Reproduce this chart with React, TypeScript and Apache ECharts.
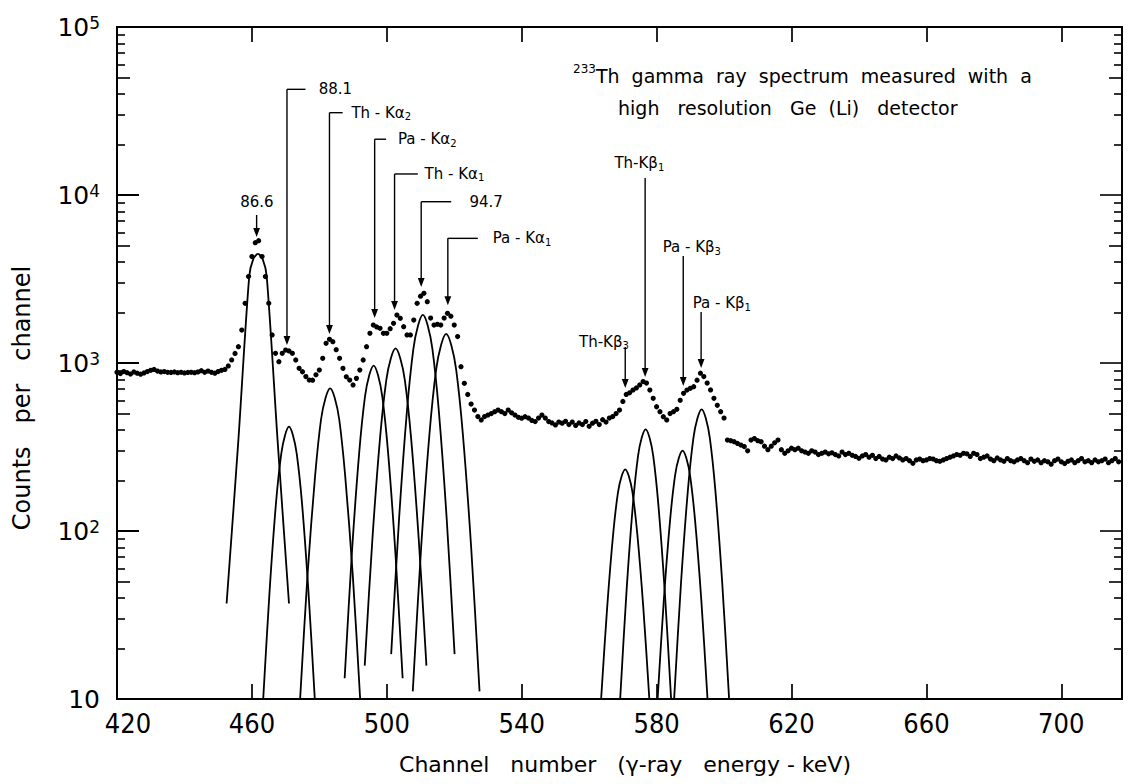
import React, { useEffect, useRef } from "react";
import * as echarts from "echarts";

// Measured spectrum: one count value per channel, starting at channel 420
const spectrumStartChannel = 420;
const spectrumCounts: number[] = [
  880, 865, 890, 875, 860, 885, 870, 858, 872, 890,
  905, 915, 895, 885, 890, 880, 878, 885, 875, 880,
  872, 878, 880, 875, 885, 900, 880, 895, 880, 870,
  890, 905, 915, 960, 1043, 1140, 1250, 1570, 2265, 3270,
  4300, 5200, 5350, 4300, 3270, 2265, 1470, 1142, 1018, 1142,
  1195, 1180, 1142, 1042, 929, 887, 830, 792, 790, 850,
  908, 1066, 1310, 1384, 1340, 1200, 1066, 929, 828, 792,
  740, 810, 908, 1042, 1250, 1503, 1682, 1640, 1609, 1503,
  1503, 1600, 1722, 1930, 1845, 1644, 1468, 1468, 1800, 2265,
  2500, 2600, 2317, 1850, 1682, 1700, 1682, 1850, 1977, 1900,
  1682, 1436, 950, 757, 650, 570, 525, 480, 458, 480,
  490, 500, 513, 525, 513, 500, 525, 505, 490, 475,
  469, 479, 470, 455, 448, 470, 490, 470, 448, 440,
  428, 445, 438, 450, 430, 445, 425, 440, 430, 448,
  420, 438, 450, 430, 460, 445, 470, 480, 500, 525,
  590, 650, 665, 690, 710, 740, 775, 760, 690, 616,
  549, 513, 479, 458, 500, 513, 530, 600, 660, 690,
  707, 723, 790, 869, 830, 760, 691, 616, 560, 513,
  470, 348, 345, 340, 332, 325, 318, 300, 348, 355,
  345, 340, 320, 305, 320, 335, 348, 305, 290, 300,
  311, 305, 311, 300, 295, 290, 300, 295, 285, 290,
  295, 288, 292, 285, 280, 295, 285, 290, 282, 278,
  271, 280, 285, 275, 282, 270, 278, 268, 265, 275,
  270, 280, 272, 265, 270, 262, 253, 265, 268, 262,
  265, 270, 268, 262, 260, 265, 270, 275, 280, 285,
  282, 290, 288, 278, 290, 285, 270, 275, 280, 268,
  262, 272, 265, 260, 270, 262, 258, 265, 270, 262,
  255, 268, 260, 265, 255, 262, 258, 250, 262, 268,
  258, 252, 260, 265, 255, 262, 270, 258, 262, 255,
  265, 258, 262, 268, 255, 262, 270, 258,
];

// Fitted peak components: [channel, counts]
const peak866: number[][] = [[452.5, 37], [456.0, 350], [459.2, 3270], [460.4, 4150], [461.8, 4460], [463.2, 4150], [464.4, 3270], [467.6, 350], [471.0, 37]];
const peak881: number[][] = [[463.35, 10], [465.25, 44], [467.15, 147], [468.7, 288], [469.85, 373], [471.0, 418], [472.15, 373], [473.3, 288], [474.85, 147], [476.75, 44], [478.65, 10]];
const peakThKa2: number[][] = [[474.3, 10], [476.5, 55], [478.75, 214], [480.5, 461], [481.85, 622], [483.2, 707], [484.55, 622], [485.9, 461], [487.65, 214], [489.9, 55], [492.1, 10]];
const peakPaKa2: number[][] = [[487.5, 13.3], [489.65, 74], [491.8, 290], [493.52, 628], [494.81, 847], [496.1, 964], [497.39, 847], [498.68, 628], [500.4, 290], [502.55, 74], [504.7, 13.3]];
const peakThKa1: number[][] = [[493.45, 15.8], [495.74, 90], [498.02, 362], [499.85, 791], [501.23, 1072], [502.6, 1222], [503.97, 1072], [505.35, 791], [507.18, 362], [509.46, 90], [511.75, 15.8]];
const peak947: number[][] = [[501.3, 18.5], [503.65, 119], [506.0, 526], [507.88, 1213], [509.29, 1679], [510.7, 1932], [512.11, 1679], [513.52, 1213], [515.4, 526], [517.75, 119], [520.1, 18.5]];
const peakPaKa1: number[][] = [[507.7, 11.1], [510.17, 79], [512.65, 378], [514.63, 912], [516.11, 1285], [517.6, 1490], [519.09, 1285], [520.57, 912], [522.55, 378], [525.03, 79], [527.5, 11.1]];
const peakThKb3: number[][] = [[563.55, 10], [565.34, 35], [567.12, 96], [568.55, 170], [569.63, 212], [570.7, 233], [571.77, 212], [572.85, 170], [574.28, 96], [576.06, 35], [577.85, 10]];
const peakThKb1: number[][] = [[569.2, 10], [571.09, 44], [572.97, 143], [574.48, 278], [575.62, 361], [576.75, 403], [577.88, 361], [579.02, 278], [580.53, 143], [582.41, 44], [584.3, 10]];
const peakPaKb3: number[][] = [[580.3, 10], [582.15, 39], [584.0, 116], [585.48, 214], [586.59, 272], [587.7, 301], [588.81, 272], [589.92, 214], [591.4, 116], [593.25, 39], [595.1, 10]];
const peakPaKb1: number[][] = [[585.2, 10], [587.24, 49], [589.27, 174], [590.9, 356], [592.13, 470], [593.35, 530], [594.57, 470], [595.8, 356], [597.43, 174], [599.46, 49], [601.5, 10]];

const components = [peak866, peak881, peakThKa2, peakPaKa2, peakThKa1, peak947, peakPaKa1, peakThKb3, peakThKb1, peakPaKb3, peakPaKb1];

// Axis ticks and labels
const xTickLabels = [420, 460, 500, 540, 580, 620, 660, 700];
const xTickMarks = [460, 500, 540, 580, 620, 660, 700];
const decadeExponents = [1, 2, 3, 4, 5];
const decadeBases = [10, 100, 1000, 10000];
const minorMultipliers = [2, 3, 4, 6, 7, 8, 9];
const midMultipliers = [5];

// Peak identification labels (rich text, subscripts in {s|..})
const annotationLabels = [
  "{t|86.6}", "{t|88.1}", "{t|Th - Kα}{s|2}", "{t|Pa - Kα}{s|2}", "{t|Th - Kα}{s|1}", "{t|94.7}",
  "{t|Pa - Kα}{s|1}", "{t|Th-Kβ}{s|3}", "{t|Th-Kβ}{s|1}", "{t|Pa - Kβ}{s|3}", "{t|Pa - Kβ}{s|1}",
];
const annotationLineChannel = [461.4, 470.4, 483.0, 496.4, 502.3, 510.2, 518.1, 570.7, 576.6, 587.9, 593.2];
const annotationTipCounts = [5620, 1280, 1490, 1850, 2070, 2830, 2210, 710, 826, 730, 933];
const annotationTopCounts = [7600, 42560, 30900, 21480, 13340, 9120, 5520, 1245, 12620, 4335, 2012];
const annotationBracketEnd = [461.4, 475.9, 486.9, 499.8, 509.2, 519.1, 527.0, 570.7, 576.6, 587.9, 593.2];
const annotationTextChannel = [461.5, 479.8, 489.5, 503.3, 511.2, 524.5, 531.4, 557.0, 567.5, 581.8, 590.7];
const annotationTextCounts = [9120, 42560, 30900, 21480, 13340, 9120, 5520, 1334, 15490, 4900, 2275];
const annotationTextAlign = ["center", "left", "left", "left", "left", "left", "left", "left", "left", "left", "left"];

const FONT = "'DejaVu Sans', 'Liberation Sans', Arial, sans-serif";
const TICK_FONT = "'Liberation Sans Narrow', 'DejaVu Sans Condensed', 'DejaVu Sans', sans-serif";
const INK = "#000";

export default function App() {
  const ref = useRef<HTMLDivElement>(null);

  useEffect(() => {
    if (!ref.current) return;
    const chart = echarts.init(ref.current, undefined, { renderer: "svg" });

    const minorLogs = decadeBases.flatMap((b) => minorMultipliers.map((m) => Math.log10(b * m)));
    const midLogs = decadeBases.flatMap((b) => midMultipliers.map((m) => Math.log10(b * m)));

    const spectrumData = spectrumCounts.map((v, i) => [spectrumStartChannel + i, v]);

    const tickAxis = (position: string, values: number[], length: number) => ({
      type: "value",
      min: 1,
      max: 5,
      position,
      axisLine: { show: false },
      splitLine: { show: false },
      axisLabel: { show: false },
      axisTick: { inside: true, length, customValues: values, lineStyle: { color: INK, width: 1.6 } },
    });

    const annotationRich = {
      t: { fontSize: 15, fontFamily: FONT, fill: INK, lineHeight: 18, verticalAlign: "middle" },
      s: { fontSize: 10, fontFamily: FONT, fill: INK, lineHeight: 10, padding: [10, 0, 0, 0], verticalAlign: "bottom" },
    };

    const option: any = {
      animation: false,
      backgroundColor: "#fff",
      grid: {
        left: 117,
        right: 10,
        top: 27,
        bottom: 85,
        show: true,
        borderColor: INK,
        borderWidth: 2,
        backgroundColor: "transparent",
      },
      xAxis: [
        {
          type: "value",
          min: 420,
          max: 718,
          position: "bottom",
          axisLine: { show: false },
          splitLine: { show: false },
          axisTick: { inside: true, length: 15, customValues: xTickMarks, lineStyle: { color: INK, width: 1.7 } },
          axisLabel: {
            customValues: xTickLabels,
            margin: 11,
            formatter: (v: number) => (v === xTickLabels[0] ? `{first|${v}}` : `{n|${v}}`),
            rich: {
              first: { fontSize: 27, fontFamily: TICK_FONT, color: INK, padding: [0, 0, 0, 22] },
              n: { fontSize: 27, fontFamily: TICK_FONT, color: INK },
            },
          },
        },
        {
          type: "value",
          min: 420,
          max: 718,
          position: "top",
          axisLine: { show: false },
          splitLine: { show: false },
          axisLabel: { show: false },
          axisTick: { inside: true, length: 15, customValues: xTickMarks, lineStyle: { color: INK, width: 1.7 } },
        },
      ],
      yAxis: [
        {
          type: "log",
          logBase: 10,
          min: 10,
          max: 100000,
          position: "left",
          axisLine: { show: false },
          splitLine: { show: false },
          axisTick: { inside: true, length: 22, lineStyle: { color: INK, width: 2 } },
          axisLabel: {
            margin: 17,
            formatter: (v: number) => {
              const e = Math.round(Math.log10(v));
              return e === 1 ? "{b|10}" : `{b|10}{e|${e}}`;
            },
            rich: {
              b: { fontSize: 25, fontFamily: FONT, color: INK, lineHeight: 26, verticalAlign: "bottom" },
              e: { fontSize: 17, fontFamily: FONT, color: INK, lineHeight: 17, padding: [0, 0, 14, 0], verticalAlign: "top" },
            },
          },
        },
        tickAxis("left", minorLogs, 8),
        tickAxis("left", midLogs, 13),
        tickAxis("right", decadeExponents, 22),
        tickAxis("right", minorLogs, 8),
        tickAxis("right", midLogs, 13),
      ],
      series: [
        ...components.map((pts, k) => ({
          type: "line",
          name: `component-${k}`,
          xAxisIndex: 0,
          yAxisIndex: 0,
          data: pts,
          smooth: 0.3,
          symbol: "none",
          showSymbol: false,
          clip: true,
          lineStyle: { color: INK, width: 1.8 },
          z: 2,
        })),
        {
          type: "scatter",
          name: "spectrum",
          xAxisIndex: 0,
          yAxisIndex: 0,
          data: spectrumData,
          symbol: "circle",
          symbolSize: 5.2,
          itemStyle: { color: INK, opacity: 1 },
          z: 3,
        },
        {
          type: "custom",
          name: "peak labels",
          xAxisIndex: 0,
          yAxisIndex: 0,
          data: annotationLineChannel.map((c, i) => [c, annotationTipCounts[i]]),
          z: 4,
          renderItem: (params: any, api: any) => {
            const i = params.dataIndex;
            const tip = api.coord([annotationLineChannel[i], annotationTipCounts[i]]);
            const top = api.coord([annotationLineChannel[i], annotationTopCounts[i]]);
            const end = api.coord([annotationBracketEnd[i], annotationTopCounts[i]]);
            const txt = api.coord([annotationTextChannel[i], annotationTextCounts[i]]);
            const head = 9;
            const half = 3.4;
            const children: any[] = [
              {
                type: "line",
                shape: { x1: top[0], y1: top[1], x2: tip[0], y2: tip[1] - head + 1 },
                style: { stroke: INK, lineWidth: 1.4 },
              },
              {
                type: "polygon",
                shape: { points: [[tip[0], tip[1]], [tip[0] - half, tip[1] - head], [tip[0] + half, tip[1] - head]] },
                style: { fill: INK },
              },
              {
                type: "text",
                x: txt[0],
                y: txt[1],
                style: {
                  text: annotationLabels[i],
                  rich: annotationRich,
                  fontSize: 15,
                  fontFamily: FONT,
                  fill: INK,
                  align: annotationTextAlign[i],
                  verticalAlign: "middle",
                },
              },
            ];
            if (end[0] - top[0] > 1) {
              children.push({
                type: "line",
                shape: { x1: top[0], y1: top[1], x2: end[0], y2: end[1] },
                style: { stroke: INK, lineWidth: 1.4 },
              });
            }
            return { type: "group", children };
          },
        },
      ],
      graphic: [
        {
          type: "text",
          x: 573,
          y: 74,
          style: {
            text: "{sup|233}{m|Th  gamma  ray  spectrum  measured  with  a}",
            fontSize: 19,
            fontFamily: FONT,
            fill: INK,
            align: "left",
            verticalAlign: "middle",
            rich: {
              sup: { fontSize: 12, fontFamily: FONT, fill: INK, lineHeight: 12, padding: [0, 0, 16, 0], verticalAlign: "top" },
              m: { fontSize: 19, fontFamily: FONT, fill: INK, lineHeight: 22, verticalAlign: "bottom" },
            },
          },
        },
        {
          type: "text",
          x: 618,
          y: 108,
          style: {
            text: "high   resolution   Ge  (Li)   detector",
            fontSize: 19,
            fontFamily: FONT,
            fill: INK,
            align: "left",
            verticalAlign: "middle",
          },
        },
        {
          type: "text",
          x: 22,
          y: 398,
          rotation: Math.PI / 2,
          style: {
            text: "Counts   per   channel",
            fontSize: 24,
            fontFamily: FONT,
            fill: INK,
            align: "center",
            verticalAlign: "middle",
          },
        },
        {
          type: "text",
          x: 625,
          y: 764,
          style: {
            text: "Channel   number   (γ-ray   energy - keV)",
            fontSize: 22,
            fontFamily: FONT,
            fill: INK,
            align: "center",
            verticalAlign: "middle",
          },
        },
      ],
    };

    chart.setOption(option);
    return () => chart.dispose();
  }, []);

  return (
    <div
      ref={ref}
      style={{ position: "fixed", left: 0, top: 0, width: 1132, height: 784, background: "#fff" }}
    />
  );
}
